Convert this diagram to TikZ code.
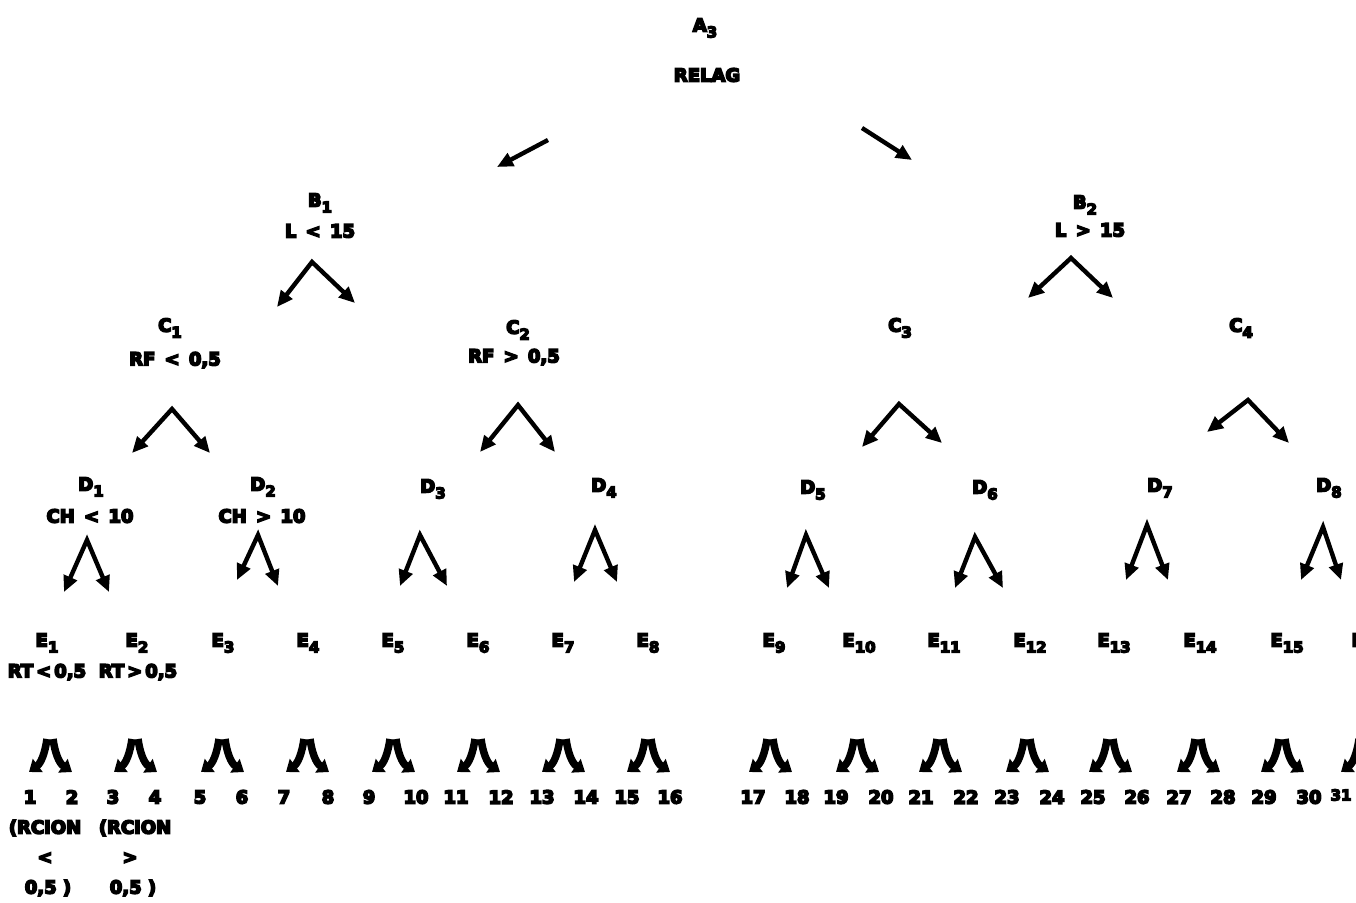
\documentclass[tikz,border=0pt]{standalone}
\usepackage{fontspec}
\usetikzlibrary{arrows.meta}
\newfontfamily\labfont{DejaVu Sans Bold}[FakeBold=9]
\newcommand\lsub[1]{\raisebox{-6pt}{\fontsize{15}{15}\selectfont #1}}
\begin{document}
\begin{tikzpicture}[x=1pt,y=-1pt,
  lbl/.style={font=\labfont\fontsize{18}{20}\selectfont, inner sep=0pt, anchor=center},
  arr/.style={line width=4.4pt, line join=miter, -{Triangle[length=16pt,width=14pt]}},
  twoway/.style={line width=4.4pt, line join=miter, {Triangle[length=16pt,width=14pt]}-{Triangle[length=16pt,width=14pt]}},
  leg/.style={line width=7.5pt, line cap=butt, -{Triangle[length=11pt,width=16pt]}}]
\useasboundingbox (0,0) rectangle (1356,902);
\clip (0,0) rectangle (1356,902);

% root
\node[lbl] (A3) at (705,28) {A\lsub{3}};
\node[lbl] (relag) at (707,75) {RELAG};
\coordinate (ral) at (548,140); \coordinate (rat) at (497,167);
\coordinate (rbl) at (862,128); \coordinate (rbt) at (912,160);
\draw[arr] (ral) -- (rat);
\draw[arr] (rbl) -- (rbt);

% level B
\node[lbl] (B1) at (320,203) {B\lsub{1}};
\node[lbl] (B1c) at (320,231) {L \,<\, 15};
\node[lbl] (B2) at (1085,205) {B\lsub{2}};
\node[lbl] (B2c) at (1090,230) {L \,>\, 15};

% level C
\node[lbl] (C1) at (170,328) {C\lsub{1}};
\node[lbl] (C1c) at (175,360) {RF \,<\, 0,5};
\node[lbl] (C2) at (518,330) {C\lsub{2}};
\node[lbl] (C2c) at (514,357) {RF \,>\, 0,5};
\node[lbl] (C3) at (900,328) {C\lsub{3}};
\node[lbl] (C4) at (1241,328) {C\lsub{4}};

% level D
\node[lbl] (D1) at (91,487) {D\lsub{1}};
\node[lbl] (D1c) at (90,516) {CH \,<\, 10};
\node[lbl] (D2) at (263,487) {D\lsub{2}};
\node[lbl] (D2c) at (262,516) {CH \,>\, 10};
\node[lbl] (D3) at (433,489) {D\lsub{3}};
\node[lbl] (D4) at (604,488) {D\lsub{4}};
\node[lbl] (D5) at (813,490) {D\lsub{5}};
\node[lbl] (D6) at (985,490) {D\lsub{6}};
\node[lbl] (D7) at (1160,488) {D\lsub{7}};
\node[lbl] (D8) at (1329,488) {D\lsub{8}};

% level E
\foreach \i/\x in {1/47,2/137,3/223,4/308,5/393,6/478,7/563,8/648,9/774,10/859,11/944,12/1030,13/1114,14/1200,15/1287,16/1368}
  \node[lbl] (E\i) at (\x,643) {E\lsub{\i}};
\node[lbl] (E1c) at (47,672) {RT\,<\,0,5};
\node[lbl] (E2c) at (138,672) {RT\,>\,0,5};

% two-way branches between the levels
\foreach \n/\ax/\ay/\lx/\ly/\rx/\ry in {
  b1/312/262/277/307/355/303, b2/1071/258/1028/298/1113/298,
  c1/172/409/132/453/210/453, c2/518/405/480/452/555/452,
  c3/899/404/862/447/942/443, c4/1248/400/1207/432/1289/443,
  d1/87/540/64/592/109/592, d2/258/535/237/580/278/586,
  d3/420/535/400/586/447/586, d4/595/530/574/582/617/582,
  d5/806/535/787/588/829/588, d6/975/537/955/588/1003/588,
  d7/1147/525/1126/580/1168/580, d8/1323/527/1301/580/1341/580}{
  \coordinate (\n a) at (\ax,\ay);
  \coordinate (\n l) at (\lx,\ly);
  \coordinate (\n r) at (\rx,\ry);
  \draw[twoway] (\n l) -- (\n a) -- (\n r);
}

% short curved branches above the leaf numbers
\foreach \n/\c in {1/50,2/135,3/222,4/307,5/393,6/478,7/563,8/648,9/770,10/857,11/940,12/1027,13/1110,14/1198,15/1282,16/1362}{
  \coordinate (f\n l) at (\c-3,739);
  \coordinate (f\n r) at (\c+3,739);
  \coordinate (f\n L) at (\c-21,772);
  \coordinate (f\n R) at (\c+22,772);
  \draw[leg] (f\n l) .. controls (\c-5,753) and (\c-9,763) .. (f\n L);
  \draw[leg] (f\n r) .. controls (\c+5,753) and (\c+9,763) .. (f\n R);
}

% leaf numbers
\foreach \i/\x in {1/30,2/72,3/113,4/155,5/200,6/242,7/284,8/328,9/369,10/416,11/456,12/501,13/542,14/586,15/627,16/670,17/753,18/797,19/836,20/881,21/921,22/966,23/1007,24/1052,25/1093,26/1137,27/1179,28/1223,29/1264,30/1309}
  \node[lbl] (n\i) at (\x,797) {\i};
\node[lbl, font=\labfont\fontsize{15}{16}\selectfont] (n31) at (1341,795) {31};

% notes under the first two leaves
\node[lbl] (p1) at (45,828) {(RCION};
\node[lbl] (p2) at (135,828) {(RCION};
\node[lbl] (q1) at (45,858) {<};
\node[lbl] (q2) at (130,858) {>};
\node[lbl] (r1) at (48,888) {0,5 )};
\node[lbl] (r2) at (133,888) {0,5 )};
\end{tikzpicture}
\end{document}
